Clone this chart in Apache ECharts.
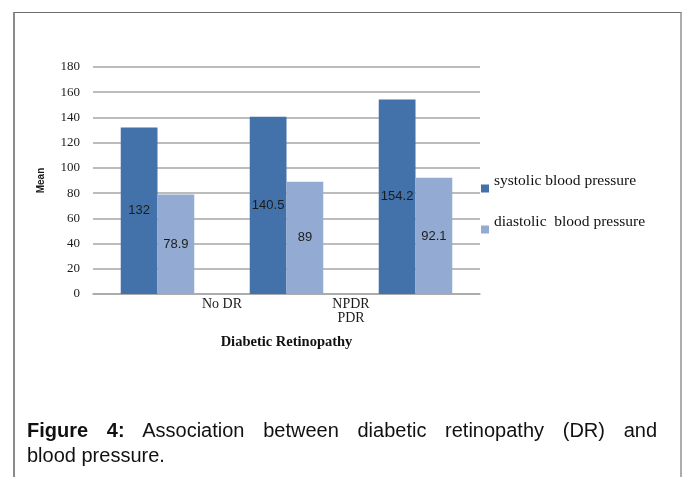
<!DOCTYPE html>
<html>
<head>
<meta charset="utf-8">
<script src="https://cdn.jsdelivr.net/npm/echarts@6/dist/echarts.min.js"></script>
<style>
  html, body { margin: 0; padding: 0; width: 686px; height: 477px; overflow: hidden; background: #fff; }
  #frame {
    position: absolute; left: 13px; top: 12px; width: 665px; height: 480px;
    border-top: 1px solid #6e6e6e; border-left: 2px solid #8a8a8a; border-right: 2px solid #adadad;
  }
  #chart { position: absolute; left: 0; top: 0; width: 686px; height: 477px; }
  #caption {
    position: absolute; left: 27px; top: 418px; width: 630px;
    font-family: "Liberation Sans", Arial, sans-serif; font-size: 20px; line-height: 25px; color: #111;
  }
  #caption .first { text-align: justify; text-align-last: justify; }
</style>
</head>
<body>
<div id="frame"></div>
<div id="chart"></div>
<div id="caption">
  <div class="first"><b>Figure 4:</b> Association between diabetic retinopathy (DR) and</div>
  <div>blood pressure.</div>
</div>
<script>
// Mean blood pressure by diabetic retinopathy stage
const categories = ['No DR', 'NPDR', 'PDR'];
const systolic = [132, 140.5, 154.2];
const diastolic = [78.9, 89, 92.1];
// Labels printed along the category axis (sit between the bar groups)
const groupLabels = ['', 'No DR', 'NPDR\nPDR', ''];
const seriesNames = ['systolic blood pressure', 'diastolic  blood pressure'];
const yMin = 0, yMax = 180, yStep = 20;

const serif = '"Liberation Serif", "Times New Roman", serif';
const sans = '"Liberation Sans", Arial, sans-serif';
const gridColor = '#a6a6a6';

const chart = echarts.init(document.getElementById('chart'), null, { renderer: 'canvas' });

const barLabel = {
  show: true,
  position: 'inside',
  fontFamily: sans,
  fontSize: 13,
  color: '#1c1c1c',
  formatter: p => String(p.value)
};

chart.setOption({
  animation: false,
  grid: { left: 93, right: 206, top: 67, bottom: 183, containLabel: false },
  legend: {
    orient: 'vertical',
    left: 476,
    top: 168,
    itemWidth: 8,
    itemHeight: 8,
    itemGap: 10,
    icon: 'rect',
    // legend text sits above its colour swatch
    formatter: name => '{t|' + name + '}',
    textStyle: {
      fontFamily: serif,
      fontSize: 15.5,
      color: '#111',
      rich: {
        t: { fontFamily: serif, fontSize: 15.5, color: '#111', lineHeight: 17, padding: [0, 0, 15, 0] }
      }
    },
    data: seriesNames
  },
  xAxis: [
    {
      type: 'category',
      data: categories,
      position: 'bottom',
      axisLine: { lineStyle: { color: gridColor, width: 1.5 } },
      axisTick: { show: false },
      axisLabel: { show: false }
    },
    {
      type: 'category',
      data: groupLabels,
      boundaryGap: false,
      position: 'bottom',
      axisLine: { show: false },
      axisTick: { show: false },
      axisLabel: {
        interval: 0,
        margin: 3,
        fontFamily: serif,
        fontSize: 14,
        lineHeight: 14,
        color: '#1a1a1a'
      },
      name: 'Diabetic Retinopathy',
      nameLocation: 'middle',
      nameGap: 41,
      nameTextStyle: { fontFamily: serif, fontSize: 14.5, fontWeight: 'bold', color: '#111' }
    }
  ],
  yAxis: {
    type: 'value',
    min: yMin,
    max: yMax,
    interval: yStep,
    axisLine: { show: false },
    axisTick: { show: false },
    splitLine: { lineStyle: { color: gridColor, width: 1.5 } },
    axisLabel: { fontFamily: serif, fontSize: 13, color: '#1a1a1a', margin: 13 },
    name: 'Mean',
    nameLocation: 'middle',
    nameGap: 47,
    nameTextStyle: { fontFamily: sans, fontSize: 10, fontWeight: 'bold', color: '#1a1a1a' }
  },
  series: [
    {
      name: seriesNames[0],
      type: 'bar',
      xAxisIndex: 0,
      data: systolic,
      barGap: '0%',
      barCategoryGap: '43%',
      itemStyle: { color: '#4371a9' },
      label: barLabel
    },
    {
      name: seriesNames[1],
      type: 'bar',
      xAxisIndex: 0,
      data: diastolic,
      barGap: '0%',
      barCategoryGap: '43%',
      itemStyle: { color: '#93abd2' },
      label: barLabel
    }
  ]
});
</script>
</body>
</html>
